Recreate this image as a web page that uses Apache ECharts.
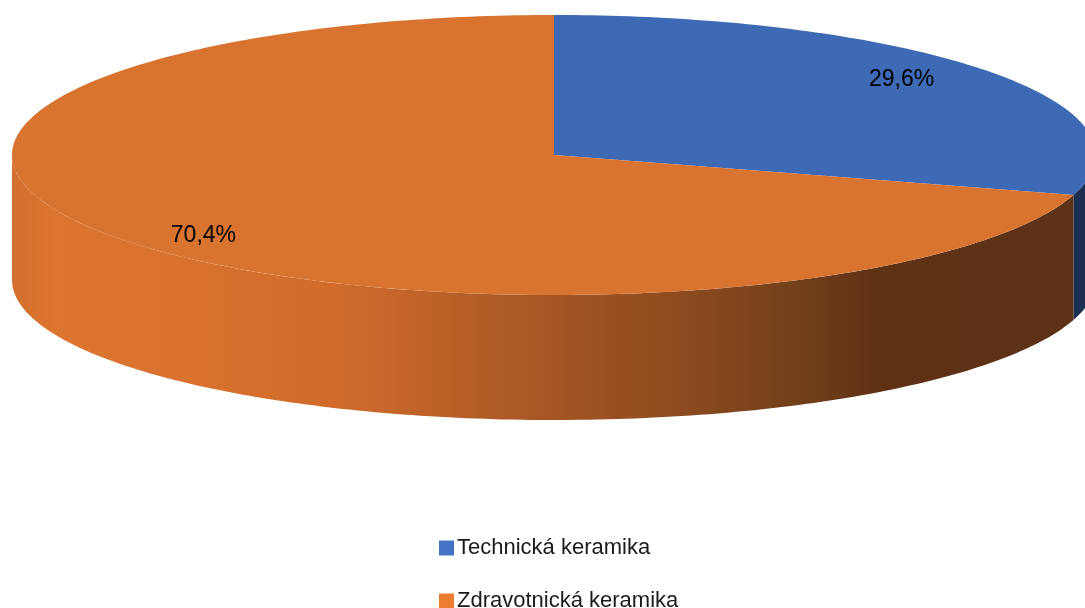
<!DOCTYPE html>
<html>
<head>
<meta charset="utf-8">
<style>
  html, body { margin: 0; padding: 0; background: #fff; }
  #chart { width: 1085px; height: 608px; }
</style>
<script src="https://cdn.jsdelivr.net/npm/echarts@6/dist/echarts.min.js"></script>
</head>
<body>
<div id="chart"></div>
<script>
const categories = ['Technická keramika', 'Zdravotnická keramika']
const values = [29.6, 70.4]
const labels = ['29,6%', '70,4%']

const legendColors = ['#4472c4', '#ed7d31']
const topColors = ['#3e69b4', '#d97430']
const sideStops = [
	[[0, '#1b2f52'], [1, '#1b2f52']],
	[[0, '#d36e2d'], [0.04, '#dc7530'], [0.16, '#d9722e'], [0.3, '#d06b2c'], [0.46, '#ad5a25'], [0.62, '#8c4a1e'], [0.72, '#73401a'], [0.8, '#5f3115'], [1, '#5d3216']],
]

// geometry of the tilted pie
const cx = 554
const cy = 155
const rx = 542
const ry = 140
const depth = 125
const labelOffsets = [[0, -8], [-3, 14]]

const myChart = echarts.init(document.getElementById('chart'), null, { renderer: 'canvas' })

const total = values.reduce((a, b) => a + b, 0)

const pt = (deg, dy) => {
	const t = (deg * Math.PI) / 180
	return [cx + rx * Math.cos(t), cy - ry * Math.sin(t) + (dy || 0)]
}

const arcPoints = (from, to, dy) => {
	const pts = []
	const n = Math.max(2, Math.ceil(Math.abs(to - from)))
	for (let i = 0; i <= n; i++) {
		pts.push(pt(from + ((to - from) * i) / n, dy))
	}
	return pts
}

const renderSlice = (params, api) => {
	const i = params.seriesIndex
	const before = values.slice(0, i).reduce((a, b) => a + b, 0)
	const a0 = 90 - (360 * before) / total
	const a1 = 90 - (360 * (before + api.value(0))) / total
	const children = []

	// front side, visible where the angle lies in [-180, 0]
	const ranges = [[-180, 0], [-540, -360]]
	ranges.forEach(([lo, hi]) => {
		const s = Math.max(lo, a1)
		const e = Math.min(hi, a0)
		if (e - s <= 0) return
		const topEdge = arcPoints(s, e, 0)
		const bottomEdge = arcPoints(e, s, depth)
		children.push({
			type: 'polygon',
			z2: 1,
			shape: { points: topEdge.concat(bottomEdge) },
			style: {
				fill: new echarts.graphic.LinearGradient(cx - rx, 0, cx + rx, 0,
					sideStops[i].map(([offset, color]) => ({ offset, color })), true),
			},
		})
	})

	// top face
	children.push({
		type: 'polygon',
		z2: 10,
		shape: { points: [[cx, cy]].concat(arcPoints(a0, a1, 0)) },
		style: { fill: topColors[i] },
	})

	const mid = (a0 + a1) / 2
	const t = (mid * Math.PI) / 180
	children.push({
		type: 'text',
		z2: 20,
		x: cx + 0.8 * rx * Math.cos(t) + labelOffsets[i][0],
		y: cy - 0.8 * ry * Math.sin(t) + labelOffsets[i][1],
		style: {
			text: labels[i],
			fill: '#000',
			font: '23px "Liberation Sans", Arial, sans-serif',
			align: 'center',
			verticalAlign: 'middle',
		},
	})

	return { type: 'group', children }
}

let option = {
	animation: false,
	legend: {
		orient: 'vertical',
		left: 439,
		top: 537,
		width: 300,
		height: 120,
		padding: 0,
		itemWidth: 15,
		itemHeight: 15,
		itemGap: 31,
		icon: 'rect',
		textStyle: {
			fontSize: 22,
			lineHeight: 16,
			fontFamily: '"Liberation Sans", Arial, sans-serif',
			color: '#1a1a1a',
			padding: [0, 0, 0, -2],
		},
		data: categories,
	},
	series: categories.map((name, i) => ({
		name,
		type: 'custom',
		coordinateSystem: 'none',
		itemStyle: { color: legendColors[i] },
		renderItem: renderSlice,
		data: [values[i]],
	})),
}
myChart.setOption(option)

window.addEventListener('resize', () => {
	myChart.resize()
})
</script>
</body>
</html>
